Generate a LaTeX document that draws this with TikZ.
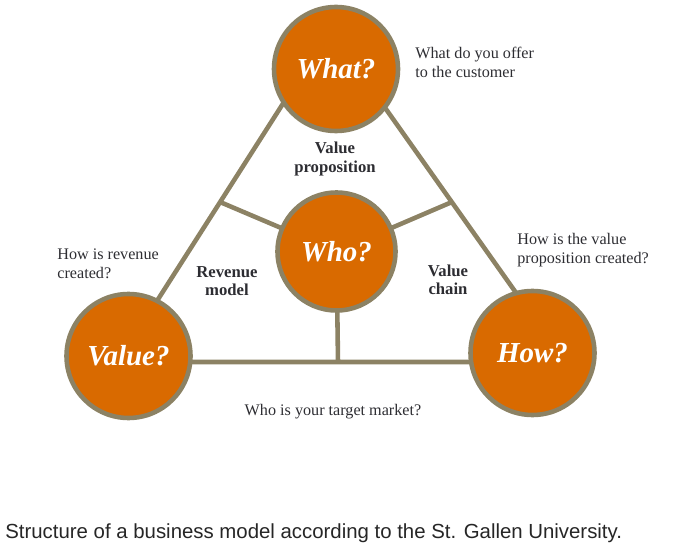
\documentclass[tikz,border=0pt]{standalone}
\usepackage{fontspec}
\setmainfont{Liberation Serif}
\newfontfamily\capfont{Liberation Sans}
\usepackage{xcolor}
\usetikzlibrary{backgrounds}
\definecolor{ring}{RGB}{140,130,100}
\definecolor{core}{RGB}{217,106,0}
\definecolor{ink}{RGB}{45,45,50}

\begin{document}
\begin{tikzpicture}[
  q/.style={circle,draw=ring,line width=2.6pt,fill=core,text=white,font=\fontsize{16.5}{18}\selectfont\bfseries\itshape,minimum size=2.48cm,inner sep=0pt},
  lab/.style={font=\fontsize{9.5}{10.4}\selectfont\bfseries,text=ink,align=center},
  note/.style={font=\fontsize{9.2}{10.8}\selectfont,text=ink,align=left,anchor=west,inner sep=0pt},
  edge/.style={draw=ring,line width=2.6pt}
]
\useasboundingbox (0,0) rectangle (14,-11.06);

\node[q] (what) at (6.72,-1.38) {What?};
\node[q,minimum size=2.36cm] (who) at (6.73,-5.03) {Who?};
\node[q] (value) at (2.57,-7.12) {Value?};
\node[q] (how) at (10.65,-7.06) {How?};

% corners of the triangle and ends of the spokes
\coordinate (ta) at (6.60,-0.60);
\coordinate (tl) at (2.36,-7.24);
\coordinate (tr) at (11.30,-7.24);
\coordinate (pl) at (4.40,-4.04);
\coordinate (pr) at (9.04,-4.04);
\coordinate (pb) at (6.76,-7.24);

\begin{scope}[on background layer]
\draw[edge] (ta) -- (tl) -- (tr) -- cycle;
\draw[edge] (who.center) -- (pl);
\draw[edge] (who.center) -- (pr);
\draw[edge] (who.center) -- (pb);
\end{scope}

\node[lab] (vp) at (6.70,-3.18) {Value\\proposition};
\node[lab] (rm) at (4.54,-5.62) {Revenue\\model};
\node[lab] (vc) at (8.96,-5.60) {Value\\chain};

\node[note] (n1) at (8.30,-1.24) {What do you offer\\to the customer};
\node[note] (n2) at (1.14,-5.28) {How is revenue\\created?};
\node[note] (n3) at (10.34,-5.00) {How is the value\\proposition created?};
\node[note,anchor=center] (n4) at (6.66,-8.24) {Who is your target market?};

\node[font=\capfont\fontsize{11.6}{13}\selectfont,text=black!85,anchor=west,inner sep=0pt] (cap) at (0.10,-10.66)
  {Structure of a business model according to the St. Gallen University.};
\end{tikzpicture}
\end{document}
